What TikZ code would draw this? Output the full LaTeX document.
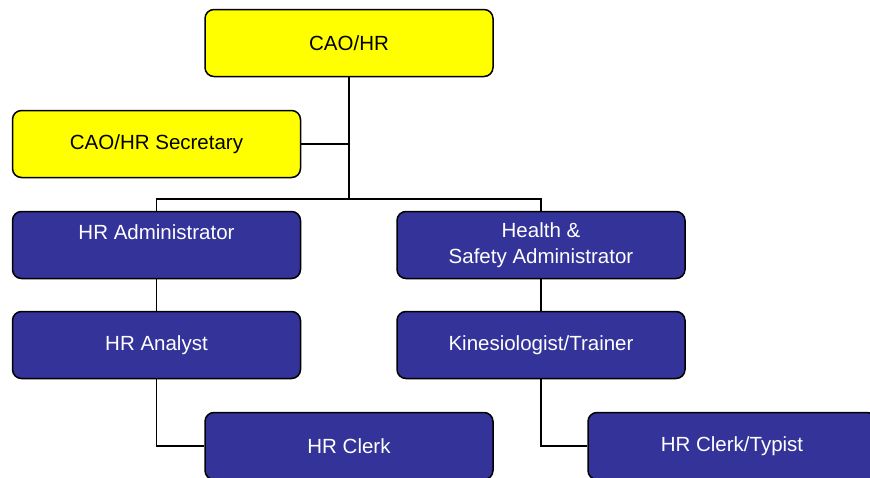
\documentclass[tikz,border=0pt]{standalone}
\usepackage{fontspec}
\setmainfont{Liberation Sans}
\definecolor{hrblue}{HTML}{333399}
\definecolor{hryellow}{HTML}{FFFF00}

\tikzset{
  post/.style={draw=black, line width=1.5pt, rounded corners=9pt, minimum width=288pt, minimum height=67pt, inner sep=0pt, align=center, font=\fontsize{20.5}{26}\selectfont},
  head/.style={post, fill=hryellow, text=black},
  staff/.style={post, fill=hrblue, text=white},
  link/.style={line width=1.5pt, draw=black},
}

\begin{document}
\begin{tikzpicture}[x=1pt,y=-1pt]
\clip (0,0) rectangle (870,477);
\fill[white] (0,0) rectangle (870,477);
\node[head] (cao) at (349,43) {CAO/HR};
\node[head] (sec) at (156.5,144) {CAO/HR Secretary};
\node[staff] (hra) at (156.5,245) {HR Administrator\\\mbox{}};
\node[staff] (hsa) at (541,245) {Health \&\\Safety Administrator};
\node[staff] (ana) at (156.5,345) {HR Analyst};
\node[staff] (kin) at (541,345) {Kinesiologist/Trainer};
\node[staff] (clk) at (349,446) {HR Clerk};
\node[staff] (typ) at (732,446) {HR Clerk/Typist};
\coordinate (bus) at (349,199);
\draw[link] (cao.south) -- (bus);
\draw[link] (sec.east) -- (sec.east -| bus);
\draw[link] (hra.north) |- (bus) -| (hsa.north);
\draw[link] (hra) -- (ana);
\draw[link] (hsa) -- (kin);
\draw[link] (ana.south) |- (clk.west);
\draw[link] (kin.south) |- (typ.west);
\end{tikzpicture}
\end{document}
